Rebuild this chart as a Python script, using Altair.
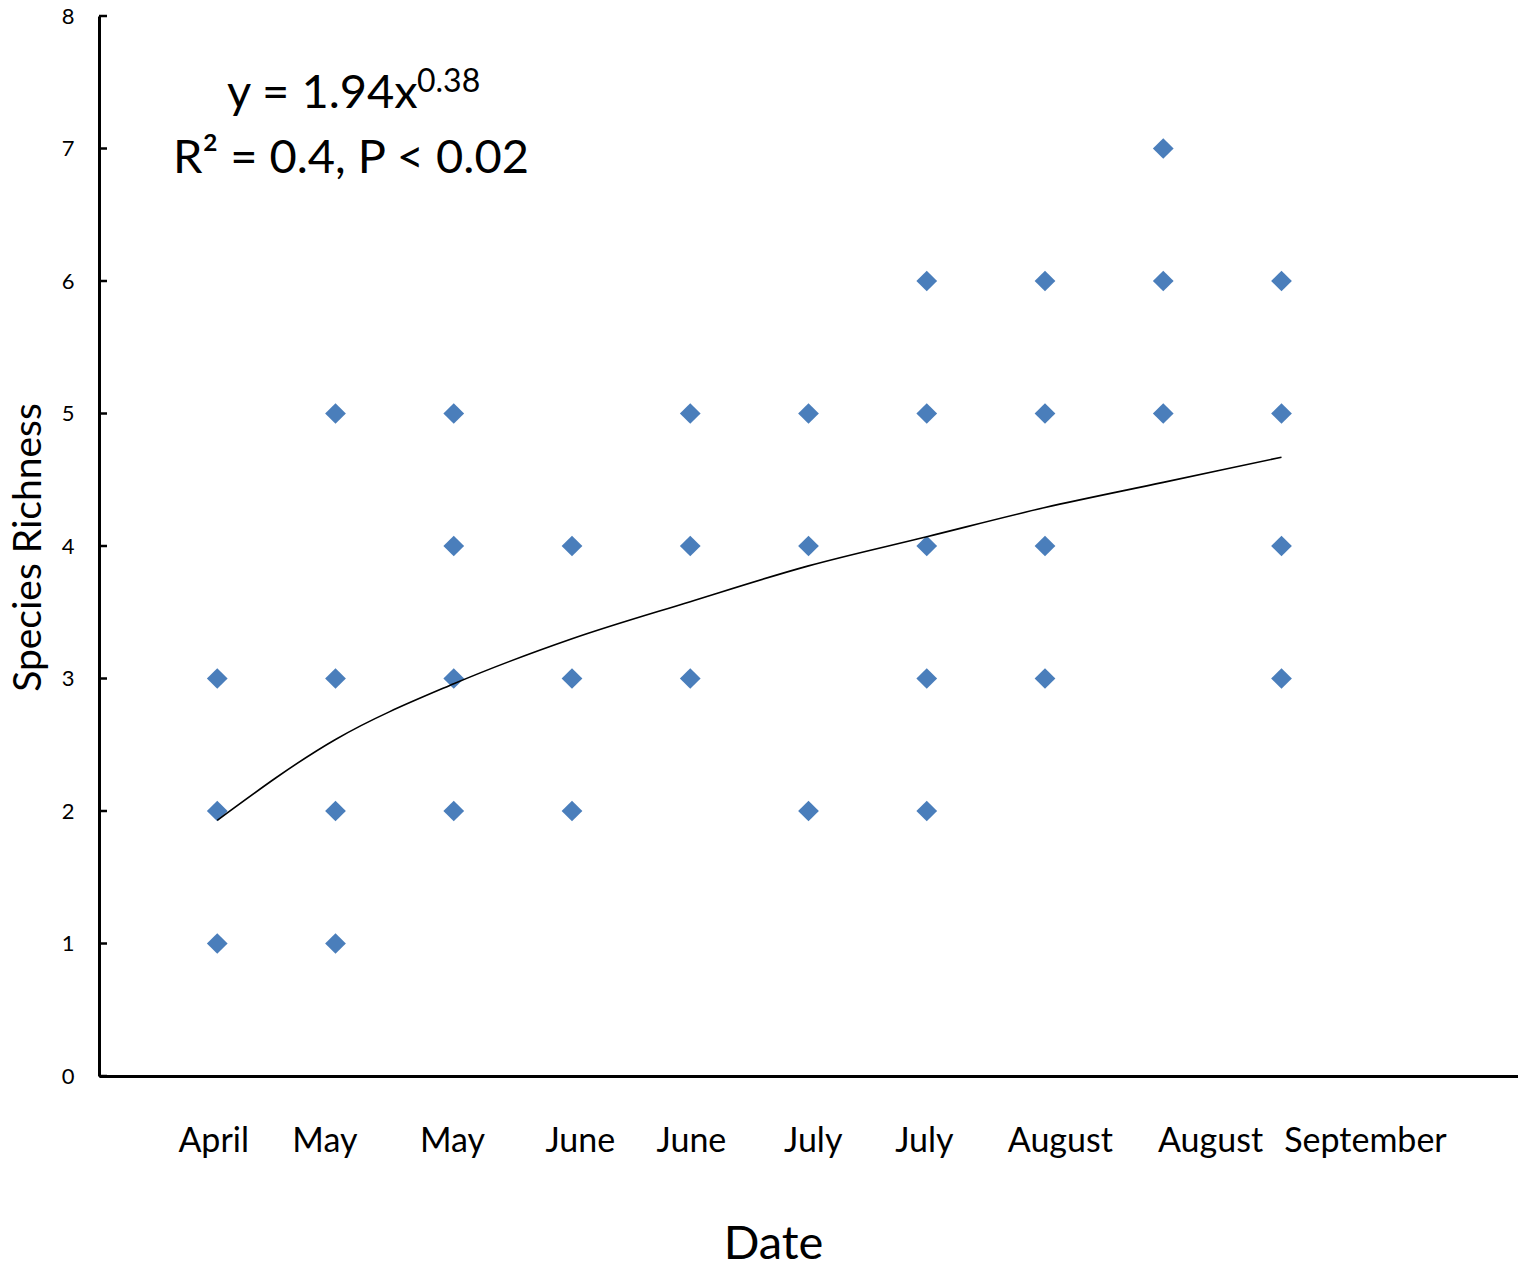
import altair as alt
import pandas as pd

# Observed species richness per sampling event (1..10)
event_1 = [3, 2, 1]
event_2 = [5, 3, 2, 1]
event_3 = [5, 4, 3, 2]
event_4 = [4, 3, 2]
event_5 = [5, 4, 3]
event_6 = [5, 4, 2]
event_7 = [6, 5, 4, 3, 2]
event_8 = [6, 5, 4, 3]
event_9 = [7, 6, 5]
event_10 = [6, 5, 4, 3]
events = [event_1, event_2, event_3, event_4, event_5,
          event_6, event_7, event_8, event_9, event_10]

# Power trend line at each event
trend_x = [1, 2, 3, 4, 5, 6, 7, 8, 9, 10]
trend_y = [1.93, 2.54, 2.96, 3.30, 3.58, 3.85, 4.07, 4.29, 4.48, 4.67]

# Month labels under the axis and where they sit (in event units)
month_labels = ["April", "May", "May", "June", "June", "July", "July",
                "August", "August", "September"]
month_pos = [0.97, 1.91, 2.99, 4.07, 5.01, 6.04, 6.98, 8.13, 9.40, 10.71]

y_ticks = [0, 1, 2, 3, 4, 5, 6, 7, 8]

FONT = "Lato"

pts = pd.DataFrame(
    [{"x": i + 1, "y": v} for i, ev in enumerate(events) for v in ev]
)
trend = pd.DataFrame({"x": trend_x, "y": trend_y})
labels = pd.DataFrame({"x": month_pos, "label": month_labels})
ticks = pd.DataFrame({"y": y_ticks})

xscale = alt.Scale(domain=[0, 12], nice=False, zero=False)
yscale = alt.Scale(domain=[0, 8], nice=False)

points = alt.Chart(pts).mark_point(
    shape="diamond", filled=True, size=430, color="#4a7ebb", opacity=1
).encode(
    x=alt.X("x:Q", scale=xscale, axis=alt.Axis(
        labels=False, ticks=False, grid=False, domainWidth=3,
        domainColor="black", title="Date", titleFont=FONT,
        titleFontSize=47, titleFontWeight="normal", titleColor="black",
        titleX=674, titleY=182, titleAlign="center",
        titleBaseline="alphabetic")),
    y=alt.Y("y:Q", scale=yscale, axis=alt.Axis(
        values=y_ticks, format="d", ticks=False, grid=False, domainWidth=3,
        domainColor="black", labelFont=FONT, labelFontSize=22,
        labelColor="black", labelPadding=25, title="Species Richness",
        titleFont=FONT, titleFontSize=39, titleFontWeight="normal",
        titleColor="black", titleAngle=-90, titleX=-71, titleY=531,
        titleAlign="center", titleBaseline="middle")),
)

curve = alt.Chart(trend).mark_line(
    color="black", strokeWidth=1.6, interpolate="monotone"
).encode(
    x=alt.X("x:Q", scale=xscale),
    y=alt.Y("y:Q", scale=yscale),
)

tick_marks = alt.Chart(ticks).mark_rule(color="black", strokeWidth=2.5).encode(
    x=alt.value(0), x2=alt.value(8),
    y=alt.Y("y:Q", scale=yscale),
)

month_text = alt.Chart(labels).mark_text(
    font=FONT, fontSize=34, color="black", align="center",
    baseline="alphabetic"
).encode(
    x=alt.X("x:Q", scale=xscale),
    y=alt.value(1136),
    text="label:N",
)

eq_main = alt.Chart(pd.DataFrame({"t": ["y = 1.94x"]})).mark_text(
    font=FONT, fontSize=47, color="black", align="left",
    baseline="alphabetic"
).encode(x=alt.value(128), y=alt.value(92), text="t:N")

eq_sup = alt.Chart(pd.DataFrame({"t": ["0.38"]})).mark_text(
    font=FONT, fontSize=32, color="black", align="left",
    baseline="alphabetic"
).encode(x=alt.value(318), y=alt.value(76), text="t:N")

eq_r2 = alt.Chart(pd.DataFrame({"t": ["R² = 0.4, P < 0.02"]})).mark_text(
    font=FONT, fontSize=47, color="black", align="left",
    baseline="alphabetic"
).encode(x=alt.value(74), y=alt.value(157), text="t:N")

chart = alt.layer(
    points, curve, tick_marks, month_text, eq_main, eq_sup, eq_r2
).properties(
    width=1419, height=1060,
    autosize=alt.AutoSizeParams(type="none"),
    padding={"left": 91, "top": 8, "right": 0, "bottom": 185},
).configure_view(stroke=None)

chart.save("out.html", embed_options={"renderer": "svg", "actions": False})
